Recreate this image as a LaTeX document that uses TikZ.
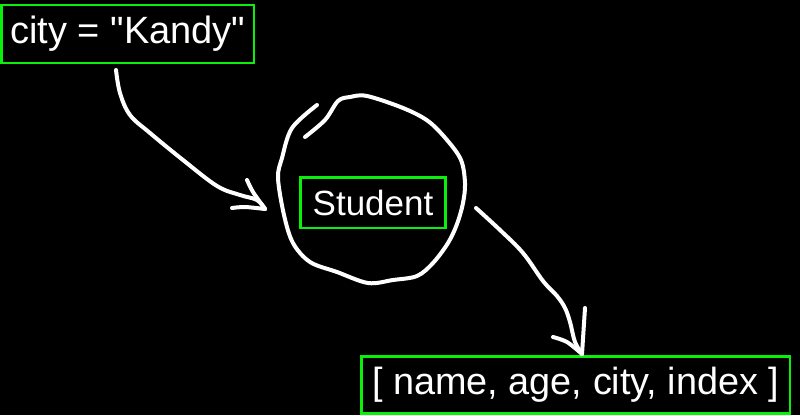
\documentclass[tikz,border=0pt]{standalone}
\usepackage{fontspec}
\setmainfont{Liberation Sans}[Ligatures=TeXOff]
\definecolor{boxgreen}{RGB}{10,240,10}
\begin{document}
\begin{tikzpicture}[x=1pt,y=-1pt,
  labelbox/.style={draw=boxgreen, line width=2.8pt, text=white, inner sep=0pt, anchor=center},
  ink/.style={draw=white, line width=4pt, line cap=round, line join=round}]
% canvas
\fill[black] (0,0) rectangle (800,415);
\useasboundingbox (0,0) rectangle (800,415);

% labelled boxes
\node[labelbox, minimum width=252.5pt, minimum height=58pt,
      font=\fontsize{38}{40}\selectfont] (city) at (127.75,34) {city = "Kandy"};
\node[labelbox, minimum width=145pt, minimum height=50.5pt,
      font=\fontsize{35}{37}\selectfont] (student) at (373,202.75) {Student};
\node[labelbox, minimum width=428.3pt, minimum height=57pt,
      font=\fontsize{37.8}{40}\selectfont] (fields) at (575.85,384.8) {[ name, age, city, index ]};

% hand-drawn ring around Student
\draw[ink] plot[smooth, tension=0.55] coordinates {
  (305,137) (325,120) (338,101) (350,97) (367,96) (403,108) (428,121)
  (447,140) (461,160) (465,183) (463,203) (457,224) (448,243) (433,263) (417,276)
  (393,280) (368,283) (337,272) (310,262) (293,243) (284,215) (278,178)
  (282,158) (292,128) (317,105)};

% arrow from city into the ring
\coordinate (a1s) at (116,70);
\coordinate (a1e) at (265,209);
\draw[ink] plot[smooth, tension=0.6] coordinates {
  (a1s) (120,93) (130,115) (150,133) (183,160) (217,186) (240,195) (257,200) (a1e)};
\draw[ink] plot[smooth] coordinates {(247,180) (253,192) (a1e)};
\draw[ink] plot[smooth] coordinates {(232,208) (245,207) (a1e)};

% arrow from the ring down to the field list
\coordinate (a2s) at (476,208);
\coordinate (a2e) at (582,354);
\draw[ink] plot[smooth, tension=0.6] coordinates {
  (a2s) (500,230) (523,253) (543,281) (557,296) (565,308) (570,322) (575,342) (a2e)};
\draw[ink] (585,308) -- (a2e);
\draw[ink] plot[smooth] coordinates {(553,337) (567,342) (a2e)};
\end{tikzpicture}
\end{document}
